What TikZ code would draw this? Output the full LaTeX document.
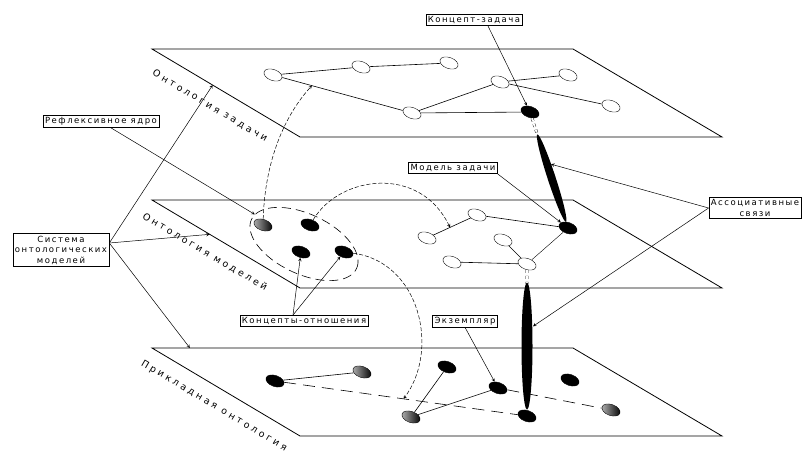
\documentclass[tikz,border=0pt]{standalone}
\usepackage{fontspec}
\usepackage{tikz}
\usetikzlibrary{shapes.geometric,calc}
\newfontfamily\lblfont[LetterSpace=18]{DejaVu Sans}
\newfontfamily\plfont[LetterSpace=30]{DejaVu Sans}

\begin{document}
\begin{tikzpicture}[x=1pt, y=-1pt,
    plane/.style={line width=0.8pt},
    wnode/.style={ellipse, draw, fill=white, minimum width=19pt, minimum height=11pt, inner sep=0pt, rotate=-20},
    bnode/.style={wnode, fill=black},
    gnode/.style={wnode, left color=black!30, right color=black},
    lbl/.style={draw, fill=white, line width=0.6pt, font=\lblfont\fontsize{8.5}{10.5}\selectfont, inner sep=2pt, align=center},
    pl/.style={font=\plfont\fontsize{9.5}{11}\selectfont, rotate=-30.7},
    ptr/.style={->, >=stealth, line width=0.5pt},
    darc/.style={->, >=stealth, dash pattern=on 4pt off 2pt, line width=0.5pt},
    rel/.style={line width=0.6pt},
    drel/.style={line width=0.6pt, dash pattern=on 12pt off 7pt},
    dbl/.style={dashed, double, double distance=2pt, line width=0.4pt}]
            \useasboundingbox (0,0) rectangle (807,455);
            % Define planes
            \coordinate (p1a) at (152,49);  \coordinate (p1b) at (573,49);
            \coordinate (p1c) at (722,137); \coordinate (p1d) at (300,137);
            \coordinate (p2a) at (152,200); \coordinate (p2b) at (573,200);
            \coordinate (p2c) at (722,288); \coordinate (p2d) at (300,288);
            \coordinate (p3a) at (152,348); \coordinate (p3b) at (573,348);
            \coordinate (p3c) at (722,436); \coordinate (p3d) at (300,436);
            \draw[plane] (p1a) -- (p1b) -- (p1c) -- (p1d) -- cycle;
            \draw[plane] (p2a) -- (p2b) -- (p2c) -- (p2d) -- cycle;
            \draw[plane] (p3a) -- (p3b) -- (p3c) -- (p3d) -- cycle;
            \node[pl] (ptask) at (210,106) {Онтология задачи};
            \node[pl] (pmod) at (205,252) {Онтология моделей};
            \node[pl] (papp) at (214,406) {Прикладная онтология};
            % Define vertices: task ontology
            \node[wnode] (a1) at (273,75) {};
            \node[wnode] (a2) at (361,67) {};
            \node[wnode] (a3) at (449,63) {};
            \node[wnode] (a7) at (412,113) {};
            \node[wnode] (a4) at (500,82) {};
            \node[wnode] (a5) at (568,75) {};
            \node[wnode] (a6) at (611,106) {};
            \node[bnode] (b) at (530,112) {};
            % Model ontology
            \node[ellipse, draw, dash pattern=on 9pt off 5pt, line width=0.6pt, minimum width=116pt, minimum height=60pt, rotate=-25] (core) at (304,244) {};
            \node[gnode] (r1) at (263,225) {};
            \node[bnode] (r2) at (310,225) {};
            \node[bnode] (r3) at (301,252) {};
            \node[bnode] (r4) at (344,252) {};
            \node[wnode] (m1) at (477,215) {};
            \node[wnode] (m2) at (427,238) {};
            \node[wnode] (m3) at (503,240) {};
            \node[wnode] (m4) at (452,262) {};
            \node[wnode] (m5) at (527,264) {};
            \node[bnode] (c) at (568,228) {};
            % Applied ontology
            \node[bnode] (d1) at (275,381) {};
            \node[gnode] (d2) at (362,372) {};
            \node[gnode] (d3) at (411,417) {};
            \node[bnode] (d4) at (447,367) {};
            \node[bnode] (d5) at (498,388) {};
            \node[bnode] (d6) at (527,416) {};
            \node[bnode] (d7) at (570,380) {};
            \node[gnode] (d8) at (611,410) {};
            % Draw edges
            \draw[rel] (a1) -- (a2);
            \draw[rel] (a2) -- (a3);
            \draw[rel] (a1) -- (a7);
            \draw[rel] (a7) -- (a4);
            \draw[rel] (a7) -- (b);
            \draw[rel] (a4) -- (a5);
            \draw[rel] (a4) -- (a6);
            \draw[rel] (m2) -- (m1);
            \draw[rel] (m1) -- (c);
            \draw[rel] (m3) -- (m5);
            \draw[rel] (m4) -- (m5);
            \draw[line width=0.4pt] (m5) -- (c);
            \draw[rel] (d1) -- (d2);
            \draw[drel] (d1) -- (d6);
            \draw[rel] (d3) -- (d4);
            \draw[rel] (d3) -- (d5);
            \draw[drel] (d5) -- (d8);
            % Associative links
            \draw[dbl] (b) -- ($(b)!.2!(c)$);
            \path (b.center) -- (c.center) node[pos=.57, sloped, ellipse, fill=black, minimum width=92pt, minimum height=8pt, inner sep=0pt] (t1) {};
            \draw[dbl] (m5) -- ($(m5)!.13!(d6)$);
            \path (m5.center) -- (d6.center) node[pos=.54, sloped, ellipse, fill=black, minimum width=127pt, minimum height=11pt, inner sep=0pt] (t2) {};
            % Dashed arcs from the core
            \coordinate (h1) at ($(a1)!.28!(a7)$);
            \coordinate (h2) at ($(m2)!.46!(m1)$);
            \coordinate (h3) at ($(d1)!.51!(d6)$);
            \draw[darc] (r1) .. controls (265,160) and (285,115) .. (h1);
            \draw[darc] (r2) .. controls (340,175) and (420,165) .. (h2);
            \draw[darc] (r4) .. controls (420,262) and (440,350) .. (h3);
            % Labels
            \node[lbl] (ktask) at (474,20) {Концепт-задача};
            \node[lbl] (refl) at (101,121) {Рефлексивное ядро};
            \node[lbl] (mtask) at (453,168) {Модель задачи};
            \node[lbl] (assoc) at (755,208) {Ассоциативные\\связи};
            \node[lbl] (sys) at (61,250) {Система\\онтологических\\моделей};
            \node[lbl] (krel) at (304,321) {Концепты-отношения};
            \node[lbl] (inst) at (465,321) {Экземпляр};
            % Pointers
            \draw[ptr] ([xshift=14pt]ktask.south) -- (b);
            \draw[ptr] ([xshift=9pt]refl.south) -- (core);
            \draw[ptr] (mtask.south east) -- (c);
            \draw[ptr] (assoc.west) -- ($(b)!.45!(c)+(4,0)$);
            \draw[ptr] (assoc.west) -- ($(m5)!.41!(d6)+(6,0)$);
            \draw[ptr] ([yshift=7pt]sys.east) -- ($(p1a)!.41!(p1d)$);
            \draw[ptr] ([yshift=7pt]sys.east) -- ($(p2a)!.39!(p2d)$);
            \draw[ptr] ([yshift=7pt]sys.east) -- ($(p3a)!.09!(p3b)$);
            \draw[ptr] ([xshift=-11pt]krel.north) -- (r3);
            \draw[ptr] ([xshift=-11pt]krel.north) -- (r4);
            \draw[ptr] (inst.south) -- (d5);
        \end{tikzpicture}
\end{document}
